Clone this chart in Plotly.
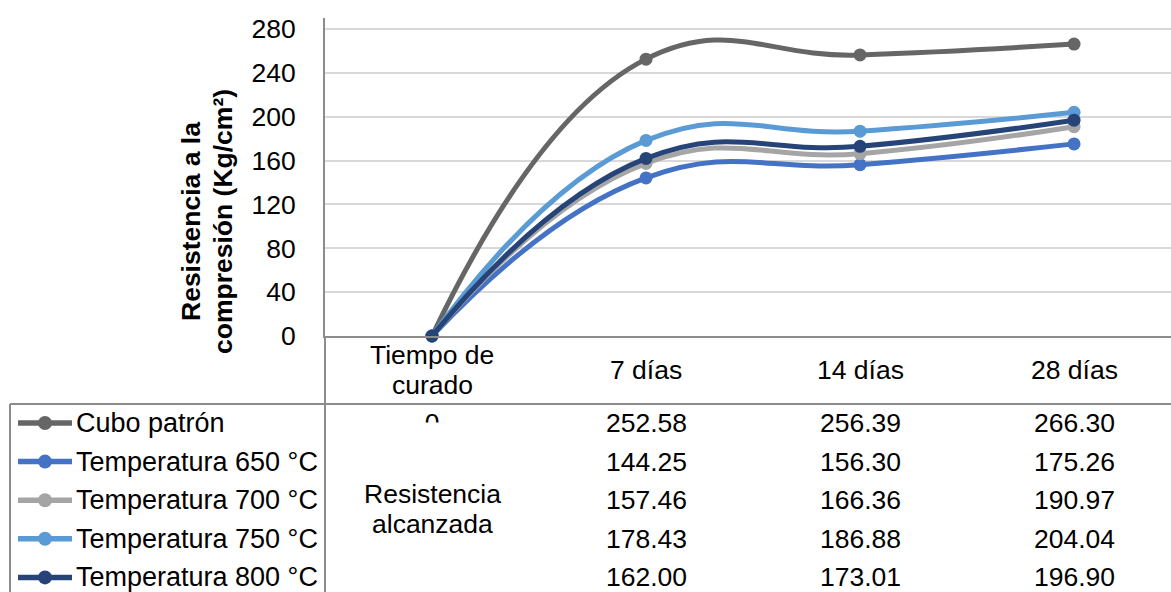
import plotly.graph_objects as go

W, H = 1171, 592

# ---------------- data ----------------
categories = ["Tiempo de curado", "7 días", "14 días", "28 días"]
series_names = ["Cubo patrón", "Temperatura 650 °C", "Temperatura 700 °C",
                "Temperatura 750 °C", "Temperatura 800 °C"]
cubo_patron = [0, 252.58, 256.39, 266.30]
temp_650 = [0, 144.25, 156.30, 175.26]
temp_700 = [0, 157.46, 166.36, 190.97]
temp_750 = [0, 178.43, 186.88, 204.04]
temp_800 = [0, 162.00, 173.01, 196.90]
y_ticks = [0, 40, 80, 120, 160, 200, 240, 280]
first_col_value = "0"
row_label = ["Resistencia", "alcanzada"]
y_title = ["Resistencia a la", "compresión (Kg/cm²)"]

series_values = [cubo_patron, temp_650, temp_700, temp_750, temp_800]
colors = ["#666666", "#4472C4", "#A5A5A5", "#5B9BD5", "#264478"]

FONT = "Liberation Sans, Arial, sans-serif"
FS = 26.5
FS_LEG = 27
LINE_GRAY = "#8C8C8C"

# layout geometry (pixels)
plot_left, plot_top, plot_bottom = 325, 18, 336
x_range = [-0.5, 3.453]
y_range = [0, 290.1]
row_y0, row_step = 423, 38.6
table_top = 404
table_left = 10

def cat_px(i):
    return plot_left + (i - x_range[0]) / (x_range[1] - x_range[0]) * (W - plot_left)

fig = go.Figure()

# main series
x_idx = list(range(len(categories)))
for name, vals, col in zip(series_names, series_values, colors):
    fig.add_trace(go.Scatter(
        x=x_idx, y=vals, name=name, mode="lines+markers",
        line=dict(color=col, width=5, shape="spline", smoothing=1.3),
        marker=dict(color=col, size=13),
        cliponaxis=False, showlegend=False, hoverinfo="skip",
        xaxis="x", yaxis="y"))

# legend samples in table (pixel overlay axes)
for i, (name, col) in enumerate(zip(series_names, colors)):
    ry = row_y0 + row_step * i
    fig.add_trace(go.Scatter(
        x=[18, 72], y=[ry, ry], mode="lines",
        line=dict(color=col, width=5.5),
        showlegend=False, hoverinfo="skip", cliponaxis=False,
        xaxis="x2", yaxis="y2"))
    fig.add_trace(go.Scatter(
        x=[45], y=[ry], mode="markers",
        marker=dict(color=col, size=14),
        showlegend=False, hoverinfo="skip", cliponaxis=False,
        xaxis="x2", yaxis="y2"))

# partially hidden "0" in first column
fig.add_trace(go.Scatter(
    x=[cat_px(0)], y=[425.5], mode="text", text=[first_col_value],
    textfont=dict(family=FONT, size=FS, color="#000000"),
    textposition="middle center", showlegend=False, hoverinfo="skip",
    cliponaxis=False, xaxis="x2", yaxis="y2"))

annotations = []
def ann(text, x, y, xref="x2", yref="y2", xanchor="center", size=FS, **kw):
    d = dict(text=text, x=x, y=y, xref=xref, yref=yref, xanchor=xanchor,
             yanchor="middle", showarrow=False,
             font=dict(family=FONT, size=size, color="#000000"))
    d.update(kw)
    annotations.append(d)

# header row (categories)
ann("Tiempo de", 0, 355, xref="x")
ann("curado", 0, 385, xref="x")
for j in range(1, len(categories)):
    ann(categories[j], j, 370, xref="x")

# legend labels and values
for i, (name, vals) in enumerate(zip(series_names, series_values)):
    ry = row_y0 + row_step * i
    ann(name, 74, ry, xanchor="left", size=FS_LEG)
    for j in range(1, len(categories)):
        ann(f"{vals[j]:.2f}", j, ry, xref="x")

ann(row_label[0], 0, 494, xref="x")
ann(row_label[1], 0, 524, xref="x")

# y title
ann(f"<b>{y_title[0]}</b>", 191, 222, textangle=-90)
ann(f"<b>{y_title[1]}</b>", 223, 222, textangle=-90)

shapes = [
    dict(type="line", xref="x2", yref="y2", x0=plot_left, x1=plot_left,
         y0=plot_bottom, y1=H, line=dict(color=LINE_GRAY, width=2)),
    dict(type="line", xref="x2", yref="y2", x0=table_left, x1=W,
         y0=table_top, y1=table_top, line=dict(color=LINE_GRAY, width=2)),
    dict(type="line", xref="x2", yref="y2", x0=table_left, x1=table_left,
         y0=table_top, y1=H, line=dict(color=LINE_GRAY, width=2)),
    dict(type="rect", xref="x2", yref="y2", x0=cat_px(0) - 14, x1=cat_px(0) + 14,
         y0=422.5, y1=442, fillcolor="#FFFFFF", line=dict(width=0), layer="above"),
]

fig.update_layout(
    width=W, height=H, autosize=False,
    margin=dict(l=0, r=0, t=0, b=0, pad=0, autoexpand=False),
    paper_bgcolor="#FFFFFF", plot_bgcolor="rgba(0,0,0,0)",
    font=dict(family=FONT, size=FS, color="#000000"),
    showlegend=False,
    xaxis=dict(domain=[plot_left / W, 1.0], range=x_range, showgrid=False,
               zeroline=False, showticklabels=False, ticks="",
               showline=True, linecolor=LINE_GRAY, linewidth=2,
               anchor="y", fixedrange=True, automargin=False),
    yaxis=dict(domain=[1 - plot_bottom / H, 1 - plot_top / H], range=y_range,
               tickvals=y_ticks, ticktext=[str(v) for v in y_ticks],
               showgrid=True, gridcolor="#D9D9D9", gridwidth=1.5,
               zeroline=False, showline=True, linecolor=LINE_GRAY, linewidth=2,
               ticks="", ticklabelstandoff=22,
               tickfont=dict(family=FONT, size=FS, color="#000000"),
               anchor="x", fixedrange=True, automargin=False),
    xaxis2=dict(domain=[0, 1], range=[0, W], visible=False, anchor="y2",
                fixedrange=True, automargin=False),
    yaxis2=dict(domain=[0, 1], range=[H, 0], visible=False, anchor="x2",
                fixedrange=True, automargin=False),
    annotations=annotations,
    shapes=shapes,
)

fig.write_html("out.html")
